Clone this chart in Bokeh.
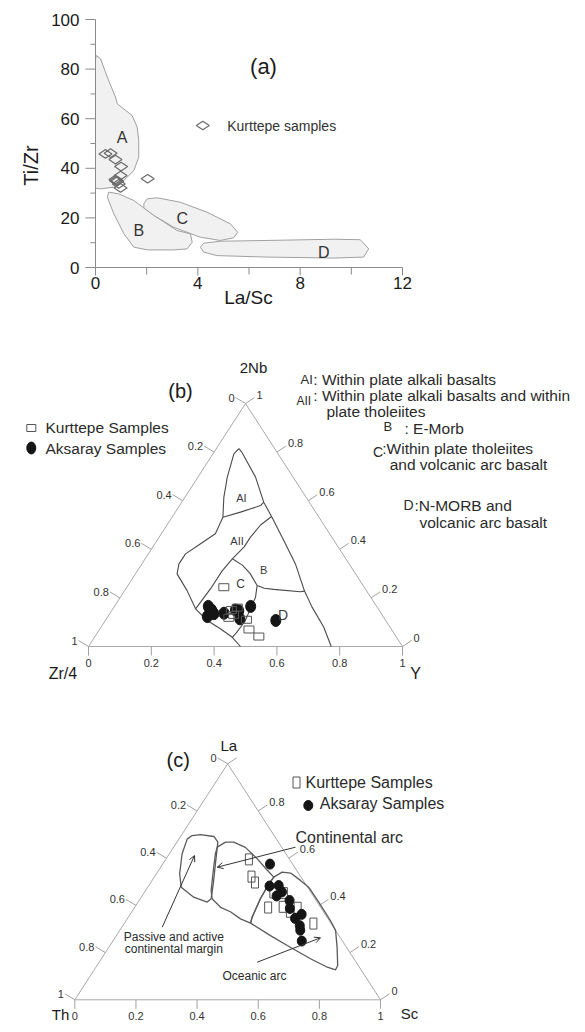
import numpy as np
from bokeh.plotting import figure
from bokeh.layouts import column
from bokeh.models import Label, Arrow, OpenHead, Range1d
from bokeh.core.properties import value
from bokeh.embed import file_html
from bokeh.resources import INLINE

FONT = "Liberation Sans"
W = 577
ORIGIN = 0  # page offset of the canvas

# ====================== DATA ======================
# (a) La/Sc vs Ti/Zr, Kurttepe samples
a_la_sc = [0.39, 0.59, 0.78, 1.00, 0.98, 0.78, 0.85, 0.91, 0.98, 0.80, 2.04]
a_ti_zr = [45.8, 46.1, 43.5, 40.7, 37.1, 35.5, 34.8, 33.7, 32.1, 35.0, 35.8]
a_x_ticks = [0, 4, 8, 12]
a_x_minor = [2, 6, 10]
a_y_ticks = [0, 20, 40, 60, 80, 100]
a_y_minor = [10, 30, 50, 70, 90]

# (a) fields: outline vertices (La/Sc, Ti/Zr)
fieldA_x = [0.03, 0.20, 0.46, 0.78, 0.85, 1.43, 1.63, 1.69, 1.69, 1.50, 1.11, 0.72, 0.20, 0.0, 0.0]
fieldA_y = [85.5, 84.1, 76.8, 68.7, 66.0, 61.3, 56.6, 51.2, 44.5, 39.1, 35.1, 32.4, 31.7, 32.0, 84.0]
fieldB_x = [0.52, 0.91, 1.50, 2.28, 3.19, 3.71, 3.78, 3.58, 3.06, 2.02, 1.50, 1.11, 0.72, 0.46]
fieldB_y = [30.4, 29.7, 27.0, 21.0, 14.9, 13.6, 10.2, 7.5, 7.1, 7.1, 8.2, 13.6, 21.6, 28.4]
fieldC_x = [1.89, 2.02, 2.41, 3.32, 4.36, 5.27, 5.56, 5.40, 4.88, 4.10, 3.06, 2.28, 1.89]
fieldC_y = [25.7, 27.7, 28.1, 26.3, 22.3, 17.6, 14.2, 12.0, 10.9, 12.2, 16.2, 21.0, 24.0]
fieldD_x = [4.10, 4.23, 4.88, 6.71, 9.31, 10.35, 10.68, 10.48, 9.31, 6.71, 4.75, 4.23]
fieldD_y = [8.2, 9.8, 10.6, 10.9, 11.4, 11.2, 7.5, 4.2, 3.8, 4.2, 4.8, 6.2]
field_names_a = ["A", "B", "C", "D"]

# (b) Zr/4 - 2Nb - Y ternary: fractions of 2Nb (top) and Y (right)
b_kurt_nb = [0.244, 0.150, 0.118, 0.160, 0.110, 0.070, 0.041, 0.130]
b_kurt_y  = [0.309, 0.380, 0.388, 0.394, 0.448, 0.476, 0.522, 0.397]
b_aks_nb  = [0.165, 0.150, 0.123, 0.135, 0.137, 0.150, 0.147, 0.114, 0.165, 0.107]
b_aks_y   = [0.299, 0.317, 0.317, 0.332, 0.363, 0.393, 0.405, 0.425, 0.434, 0.543]

# (b) field boundary lines, triangle plane coords (x along base, y = height fraction)
b_lines_x = [
    [0.479, 0.463, 0.442, 0.431, 0.428, 0.404, 0.357, 0.309, 0.288, 0.282, 0.314, 0.341, 0.378, 0.420, 0.458, 0.484],
    [0.479, 0.488, 0.532, 0.558, 0.583, 0.622, 0.659, 0.688, 0.712, 0.749, 0.773],
    [0.428, 0.484, 0.548, 0.558],
    [0.583, 0.548, 0.516, 0.495, 0.458],
    [0.458, 0.490, 0.515, 0.537],
    [0.537, 0.560, 0.590, 0.675, 0.688],
    [0.537, 0.532, 0.518, 0.498, 0.470, 0.458],
    [0.458, 0.425, 0.390, 0.341],
]
b_lines_y = [
    [0.814, 0.793, 0.697, 0.614, 0.532, 0.464, 0.423, 0.381, 0.340, 0.299, 0.230, 0.155, 0.107, 0.073, 0.038, 0.0],
    [0.814, 0.800, 0.697, 0.594, 0.535, 0.436, 0.340, 0.228, 0.162, 0.080, 0.0],
    [0.532, 0.553, 0.580, 0.594],
    [0.535, 0.500, 0.450, 0.409, 0.361],
    [0.361, 0.335, 0.300, 0.251],
    [0.251, 0.240, 0.235, 0.225, 0.228],
    [0.251, 0.203, 0.162, 0.103, 0.055, 0.038],
    [0.361, 0.310, 0.240, 0.155],
]
b_field_names = ["AI", "AII", "B", "C", "D"]

# (c) Th - La - Sc ternary: fractions of La (top) and Sc (right)
c_kurt_la = [0.595, 0.522, 0.497, 0.455, 0.452, 0.391, 0.394, 0.373, 0.390, 0.323]
c_kurt_sc = [0.272, 0.317, 0.341, 0.422, 0.458, 0.437, 0.483, 0.517, 0.534, 0.619]
c_aks_la  = [0.575, 0.482, 0.484, 0.457, 0.440, 0.421, 0.387, 0.345, 0.362, 0.314, 0.295, 0.249]
c_aks_sc  = [0.351, 0.396, 0.425, 0.449, 0.440, 0.492, 0.510, 0.548, 0.561, 0.579, 0.590, 0.618]

# (c) field outlines, triangle plane coords
c_passive_x = [0.384, 0.411, 0.455, 0.468, 0.460, 0.453, 0.446, 0.433, 0.389, 0.348, 0.343, 0.351, 0.368]
c_passive_y = [0.696, 0.700, 0.692, 0.668, 0.576, 0.492, 0.428, 0.414, 0.435, 0.477, 0.534, 0.619, 0.682]
c_cont_x = [0.466, 0.493, 0.520, 0.558, 0.597, 0.629, 0.651, 0.635, 0.607, 0.580, 0.575, 0.542, 0.509, 0.477, 0.449, 0.446, 0.453, 0.460]
c_cont_y = [0.647, 0.668, 0.668, 0.646, 0.597, 0.550, 0.520, 0.491, 0.428, 0.350, 0.325, 0.343, 0.373, 0.392, 0.428, 0.463, 0.548, 0.619]
c_ocean_x = [0.651, 0.678, 0.706, 0.738, 0.765, 0.798, 0.836, 0.853, 0.858, 0.860, 0.853, 0.826, 0.771, 0.695, 0.640, 0.575, 0.580, 0.607, 0.635]
c_ocean_y = [0.520, 0.541, 0.537, 0.506, 0.477, 0.414, 0.336, 0.294, 0.223, 0.145, 0.127, 0.138, 0.174, 0.230, 0.272, 0.325, 0.350, 0.428, 0.491]

tick_values = [0.0, 0.2, 0.4, 0.6, 0.8, 1.0]
tick_labels = ["0", "0.2", "0.4", "0.6", "0.8", "1"]


# ====================== HELPERS ======================
def make_fig(page_top, height, x0px, xscale, y0px, yscale):
    """Figure whose frame is the whole canvas; data x=0 at page px x0px, y=0 at page px y0px."""
    xr = Range1d((ORIGIN - x0px) / xscale, (ORIGIN + W - x0px) / xscale)
    yr = Range1d((y0px - page_top - height) / yscale, (y0px - page_top) / yscale)
    p = figure(width=W, height=height, x_range=xr, y_range=yr, output_backend="svg",
               toolbar_location=None, x_axis_location=None, y_axis_location=None, min_border=0)
    p.outline_line_color = None
    p.grid.visible = False

    def pg(px, py):
        return (px - x0px) / xscale, (y0px - py) / yscale
    return p, pg


def la(p, x, y, text, size, align="left", color="#1a1a1a", angle=0.0, baseline="middle"):
    p.add_layout(Label(x=x, y=y, text=text, text_font=FONT, text_font_size=size,
                       text_align=align, text_baseline=baseline, text_color=color, angle=angle))


# ====================== PANEL (a) ======================
AX0, AXS, AY0, AYS = 95, 307 / 12, 267, 248 / 100
fa, pa = make_fig(ORIGIN, 348, AX0, AXS, AY0, AYS)

fa.patches([fieldA_x, fieldB_x, fieldC_x, fieldD_x], [fieldA_y, fieldB_y, fieldC_y, fieldD_y],
           fill_color="#f1f1f1", line_color="#a0a0a0", line_width=1)

axc = "#8a8a8a"
fa.line([-10 / AXS, 12], [0, 0], line_color=axc, line_width=1)
fa.line([0, 0], [0, 100], line_color=axc, line_width=1)
fa.segment(x0=a_x_ticks, y0=[0] * 4, x1=a_x_ticks, y1=[-8 / AYS] * 4, line_color=axc)
fa.segment(x0=a_x_minor, y0=[0] * 3, x1=a_x_minor, y1=[-7 / AYS] * 3, line_color=axc)
fa.segment(x0=[0] * 6, y0=a_y_ticks, x1=[-10 / AXS] * 6, y1=a_y_ticks, line_color=axc)
fa.segment(x0=[0] * 5, y0=a_y_minor, x1=[-5 / AXS] * 5, y1=a_y_minor, line_color=axc)
tk = dict(text_font=value(FONT), text_font_size=value("17px"), text_color="#1a1a1a")
fa.text(x=a_x_ticks, y=[-15 / AYS] * 4, text=[str(v) for v in a_x_ticks],
        text_align="center", text_baseline="middle", **tk)
fa.text(x=[-16 / AXS] * 6, y=a_y_ticks, text=[str(v) for v in a_y_ticks],
        text_align="right", text_baseline="middle", **tk)

fa.scatter(a_la_sc, a_ti_zr, marker="diamond", size=13, angle=np.pi / 2,
           fill_color=None, line_color="#6a6a6a", line_width=1.2)
lx, ly = pa(202.3, 125)
fa.scatter([lx], [ly], marker="diamond", size=13, angle=np.pi / 2,
           fill_color=None, line_color="#6a6a6a", line_width=1.2)

for nm, (x, y) in zip(field_names_a, [(1.04, 52.6), (1.69, 14.9), (3.39, 19.6), (8.92, 6.2)]):
    la(fa, x, y, nm, "16px", align="center", color="#333333")


def lA(px, py, text, size, align="left", color="#1a1a1a", angle=0.0):
    x, y = pa(px, py)
    la(fa, x, y, text, size, align=align, color=color, angle=angle)


lA(263, 66, "(a)", "22px", align="center")
lA(226.7, 125, "Kurttepe samples", "14px", color="#333333")
lA(30, 165, "Ti/Zr", "20px", align="center", angle=np.pi / 2)
lA(248, 297, "La/Sc", "19px", align="center")


# ====================== TERNARY HELPERS ======================
def plane(top, right):
    t = np.asarray(top); r = np.asarray(right)
    return r + t / 2.0, t


def tern_frame(p, sx, sy, skip_apex_right=False):
    p.line([0, 1, 0.5, 0], [0, 0, 1, 0], line_color="#a8a8a8", line_width=1)
    tv = np.array(tick_values)
    lab_kw = dict(text_font=value(FONT), text_font_size=value("11px"), text_color="#333333")
    seg_kw = dict(line_color="#a0a0a0", line_width=1)
    # bottom axis (right-vertex component)
    p.segment(x0=tv, y0=np.zeros(6), x1=tv, y1=np.full(6, -9 / sy), **seg_kw)
    p.text(x=tv, y=np.full(6, -12 / sy), text=tick_labels, text_align="center",
           text_baseline="top", **lab_kw)
    # left edge (left-vertex component)
    lx = (1 - tv) / 2; ly = 1 - tv
    lx1 = lx - 10 / sx; ly1 = ly + 6 / sy
    p.segment(x0=lx, y0=ly, x1=lx1, y1=ly1, **seg_kw)
    p.text(x=lx1 - 1 / sx, y=ly1, text=tick_labels, text_align="right",
           text_baseline="middle", **lab_kw)
    # right edge (top-vertex component)
    rx = 1 - tv / 2; ry = tv
    rx1 = rx + 9 / sx; ry1 = ry + 6 / sy
    p.segment(x0=rx, y0=ry, x1=rx1, y1=ry1, **seg_kw)
    keep = [i for i in range(6) if not (skip_apex_right and tick_values[i] == 1.0)]
    p.text(x=rx1[keep] + 2 / sx, y=ry1[keep] + 3 / sy, text=[tick_labels[i] for i in keep],
           text_align="left", text_baseline="middle", **lab_kw)


# ====================== PANEL (b) ======================
BL, BR, BB, BA = 88, 402, 646, 403
fb, pb = make_fig(348, 342, BL, BR - BL, BB, BB - BA)
tern_frame(fb, BR - BL, BB - BA)
fb.multi_line(b_lines_x, b_lines_y, line_color="#4a4a4a", line_width=1.1)
bx, by = plane(b_aks_nb, b_aks_y)
fb.ellipse(bx, by, width=10, height=12, width_units="screen", height_units="screen",
           fill_color="#151515", line_color="#151515")
kx, ky = plane(b_kurt_nb, b_kurt_y)
fb.rect(kx, ky, width=10, height=7, width_units="screen", height_units="screen",
        fill_color=None, line_color="#555555", line_width=1)
for nm, (x, y), fs in zip(b_field_names,
                          [(0.487, 0.613), (0.473, 0.433), (0.558, 0.316), (0.484, 0.258), (0.620, 0.128)],
                          ["11px", "11px", "11px", "12px", "14px"]):
    la(fb, x, y, nm, fs, align="center", color="#3a3a3a")


def lb(px, py, text, size, align="left", color="#1a1a1a"):
    x, y = pb(px, py)
    la(fb, x, y, text, size, align=align, color=color)


lb(253, 367, "2Nb", "15px", align="center")
lb(180, 390.5, "(b)", "20px", align="center")
lb(62.4, 672.5, "Zr/4", "16px", align="center")
lb(415, 672.5, "Y", "16px", align="center")
x, y = pb(30.8, 427.5)
fb.rect([x], [y], width=9, height=7, width_units="screen", height_units="screen",
        fill_color=None, line_color="#555555", line_width=1)
x, y = pb(30.8, 447.5)
fb.ellipse([x], [y], width=9, height=12, width_units="screen", height_units="screen",
           fill_color="#151515", line_color="#151515")
lb(45, 427.3, "Kurttepe Samples", "15.5px", color="#2a2a2a")
lb(45, 448.3, "Aksaray Samples", "15.5px", color="#2a2a2a")
DS = "15.5px"
lb(300, 379.3, "AI", "13px", color="#2a2a2a")
lb(312.8, 379.3, ": Within plate alkali basalts", DS, color="#2a2a2a")
lb(296, 400.7, "AII", "12px", color="#2a2a2a")
lb(312.8, 395, ": Within plate alkali basalts and within", DS, color="#2a2a2a")
lb(325.9, 411, "plate  tholeiites", DS, color="#2a2a2a")
lb(383, 425.5, "B", "13px", color="#2a2a2a")
lb(404, 427.7, ": E-Morb", DS, color="#2a2a2a")
lb(372.4, 451, "C", "14px", color="#2a2a2a")
lb(381.8, 448.3, ":Within plate tholeiites", DS, color="#2a2a2a")
lb(389.2, 464, "and volcanic arc basalt", DS, color="#2a2a2a")
lb(403, 504, "D", "14px", color="#2a2a2a")
lb(414, 505, ":N-MORB and", DS, color="#2a2a2a")
lb(419, 521.7, "volcanic arc basalt", DS, color="#2a2a2a")

# ====================== PANEL (c) ======================
CL, CR, CB, CA = 74.3, 380, 999.3, 763.3
fc, pcv = make_fig(690, 334, CL, CR - CL, CB, CB - CA)
tern_frame(fc, CR - CL, CB - CA, skip_apex_right=True)
fc.patches([c_passive_x, c_cont_x, c_ocean_x], [c_passive_y, c_cont_y, c_ocean_y],
           fill_color=None, line_color="#5a5a5a", line_width=1.3)
kx, ky = plane(c_kurt_la, c_kurt_sc)
fc.rect(kx, ky, width=7, height=11, width_units="screen", height_units="screen",
        fill_color=None, line_color="#555555", line_width=1)
ax_, ay_ = plane(c_aks_la, c_aks_sc)
fc.ellipse(ax_, ay_, width=9, height=10, width_units="screen", height_units="screen",
           fill_color="#151515", line_color="#151515")


def lc(px, py, text, size, align="left", color="#1a1a1a"):
    x, y = pcv(px, py)
    la(fc, x, y, text, size, align=align, color=color)


lc(228.3, 745, "La", "15px", align="center")
lc(177.7, 759.7, "(c)", "20px", align="center")
lc(60, 1014, "Th", "15px", align="center")
lc(409, 1013, "Sc", "15px", align="center")
x, y = pcv(296, 782)
fc.rect([x], [y], width=7, height=11, width_units="screen", height_units="screen",
        fill_color=None, line_color="#555555", line_width=1)
x, y = pcv(307.8, 805)
fc.ellipse([x], [y], width=9, height=10, width_units="screen", height_units="screen",
           fill_color="#151515", line_color="#151515")
lc(305, 781.7, "Kurttepe Samples", "16px", color="#2a2a2a")
lc(319.3, 802.7, "Aksaray Samples", "16px", color="#2a2a2a")
lc(295, 836.7, "Continental arc", "16px", color="#2a2a2a")
lc(173.3, 936.7, "Passive and active", "12px", align="center", color="#2a2a2a")
lc(173.3, 948.3, "continental margin", "12px", align="center", color="#2a2a2a")
lc(254, 975, "Oceanic arc", "12px", align="center", color="#2a2a2a")


def arrow_c(p0, p1):
    x0, y0 = pcv(*p0); x1, y1 = pcv(*p1)
    fc.add_layout(Arrow(end=OpenHead(size=6, line_color="#333333", line_width=1),
                        x_start=x0, y_start=y0, x_end=x1, y_end=y1,
                        line_color="#333333", line_width=1))


arrow_c((295, 846.7), (216.7, 866.7))
arrow_c((161.7, 926.7), (194, 855))
arrow_c((256.7, 961.7), (320, 937.3))

layout = column(fa, fb, fc, spacing=0)
open("out.html", "w").write(file_html(layout, INLINE))
